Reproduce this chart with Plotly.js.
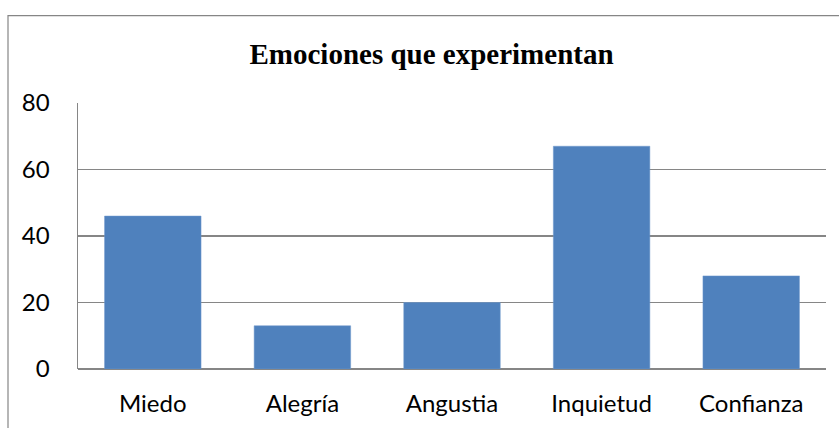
<!DOCTYPE html>
<html>
<head>
<meta charset="utf-8">
<script src="https://cdn.plot.ly/plotly-3.0.1.min.js"></script>
<style>
html,body{margin:0;padding:0;background:#fff;}
#chart{width:839px;height:428px;}
</style>
</head>
<body>
<div id="chart"></div>
<script>
const categories = ["Miedo", "Alegría", "Angustia", "Inquietud", "Confianza"];
const values = [46, 13, 20, 67, 28];
const yTicks = [0, 20, 40, 60, 80];
const chartTitle = "Emociones que experimentan";

const trace = {
  type: "bar",
  x: categories,
  y: values,
  marker: {color: "#4F81BD", line: {color: "#6f98cc", width: 0.5}},
  width: 0.645,
  hoverinfo: "x+y"
};

const layout = {
  width: 839,
  height: 428,
  margin: {l: 78, r: 13, t: 103, b: 59, pad: 0},
  paper_bgcolor: "#ffffff",
  plot_bgcolor: "#ffffff",
  showlegend: false,
  title: {
    text: "<b>" + chartTitle + "</b>",
    font: {family: "Liberation Serif, Times New Roman, serif", size: 29, color: "#000000"},
    x: 431.5 / 839,
    xanchor: "center",
    xref: "container",
    y: 1 - 54 / 428,
    yanchor: "middle",
    yref: "container"
  },
  xaxis: {
    type: "category",
    showgrid: false,
    showline: false,
    zeroline: false,
    ticks: "",
    ticklabelstandoff: 18,
    tickfont: {family: "Lato, Carlito, Calibri, sans-serif", size: 24, color: "#000000"}
  },
  yaxis: {
    range: [0, 80],
    tickvals: yTicks,
    ticktext: yTicks.map(String),
    showgrid: true,
    gridcolor: "#868686",
    gridwidth: 1.5,
    showline: true,
    linecolor: "#868686",
    linewidth: 1.5,
    zeroline: true,
    zerolinecolor: "#868686",
    zerolinewidth: 1.5,
    ticks: "",
    ticklabelstandoff: 22,
    tickfont: {family: "Lato, Carlito, Calibri, sans-serif", size: 24, color: "#000000"}
  },
  shapes: [{
    type: "rect",
    xref: "paper", yref: "paper",
    x0: (8 - 78) / 748, x1: 1.2,
    y0: -0.4, y1: (369 - 16) / 265.7,
    line: {color: "#868686", width: 1.2},
    fillcolor: "rgba(0,0,0,0)",
    layer: "below"
  }]
};

Plotly.newPlot("chart", [trace], layout, {displayModeBar: false, staticPlot: true});
</script>
</body>
</html>
